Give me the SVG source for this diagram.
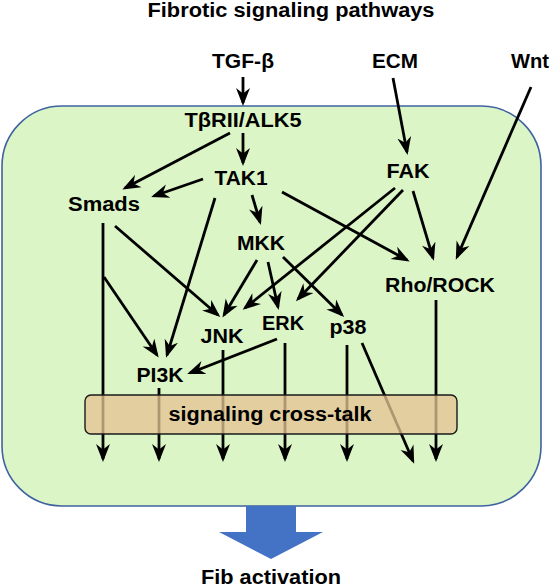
<svg xmlns="http://www.w3.org/2000/svg" width="551" height="588" viewBox="0 0 551 588">
<style>
.t{font-family:"Liberation Sans",Arial,Helvetica,sans-serif;font-weight:bold;font-size:20px;fill:#000;text-anchor:middle}
.c{fill:none;stroke:#000;stroke-width:2.8;marker-end:url(#ah)}
</style>
<defs>
<marker id="ah" markerUnits="userSpaceOnUse" markerWidth="18" markerHeight="15" viewBox="0 0 18 15" refX="15" refY="7.5" orient="auto">
<path d="M0,0.5 L18,7.5 L0,14.5 L5.5,7.5 Z" fill="#000"/>
</marker>
</defs>
<rect width="551" height="588" fill="#fff"/>
<text class="t" x="291" y="17" textLength="287" lengthAdjust="spacingAndGlyphs">Fibrotic signaling pathways</text>
<g id="cell">
<rect x="2" y="106" width="539" height="400" rx="60" ry="60" fill="#dbf5c6" stroke="#3f63a0" stroke-width="1.6"/>
</g>
<g id="connectors">
<line class="c" x1="243" y1="77" x2="243" y2="103"/>
<line class="c" x1="243" y1="133" x2="243" y2="163"/>
<line class="c" x1="230" y1="133" x2="125" y2="188"/>
<line class="c" x1="203" y1="179" x2="154" y2="196"/>
<line class="c" x1="252" y1="195" x2="260" y2="222"/>
<line class="c" x1="282" y1="192" x2="407" y2="260"/>
<line class="c" x1="215" y1="198" x2="167" y2="355"/>
<line class="c" x1="115" y1="226" x2="218" y2="315"/>
<line class="c" x1="103" y1="223" x2="103" y2="459"/>
<line class="c" x1="104" y1="277" x2="157" y2="355"/>
<line class="c" x1="393" y1="78" x2="407" y2="152"/>
<line class="c" x1="531" y1="87" x2="457" y2="257"/>
<line class="c" x1="413" y1="191" x2="433" y2="258"/>
<line class="c" x1="395" y1="188" x2="245" y2="308"/>
<line class="c" x1="403" y1="190" x2="298" y2="299"/>
<line class="c" x1="257" y1="260" x2="224" y2="315"/>
<line class="c" x1="268" y1="262" x2="278" y2="307"/>
<line class="c" x1="283" y1="257" x2="342" y2="315"/>
<line class="c" x1="277" y1="339" x2="190" y2="373"/>
<line class="c" x1="159" y1="388" x2="159" y2="459"/>
<line class="c" x1="223" y1="350" x2="223" y2="459"/>
<line class="c" x1="285" y1="343" x2="285" y2="459"/>
<line class="c" x1="347" y1="345" x2="347" y2="459"/>
<line class="c" x1="362" y1="343" x2="413" y2="461"/>
<line class="c" x1="436" y1="300" x2="436" y2="459"/>
</g>
<g id="crosstalk">
<rect x="85" y="395" width="372" height="39" rx="6" ry="6" fill="#e4c292" fill-opacity="0.77" stroke="#1a1a1a" stroke-width="1.4"/>
<text class="t" x="270" y="421" textLength="203" lengthAdjust="spacingAndGlyphs">signaling cross-talk</text>
</g>
<g id="n-tgfb"><text class="t" x="243" y="68" textLength="62" lengthAdjust="spacingAndGlyphs">TGF-β</text></g>
<g id="n-ecm"><text class="t" x="395" y="68" textLength="46" lengthAdjust="spacingAndGlyphs">ECM</text></g>
<g id="n-wnt"><text class="t" x="530" y="68" textLength="38" lengthAdjust="spacingAndGlyphs">Wnt</text></g>
<g id="n-receptor"><text class="t" x="243" y="127" textLength="117" lengthAdjust="spacingAndGlyphs">TβRII/ALK5</text></g>
<g id="n-tak1"><text class="t" x="241" y="185" textLength="53" lengthAdjust="spacingAndGlyphs">TAK1</text></g>
<g id="n-smads"><text class="t" x="104" y="211" textLength="72" lengthAdjust="spacingAndGlyphs">Smads</text></g>
<g id="n-fak"><text class="t" x="408" y="178" textLength="43" lengthAdjust="spacingAndGlyphs">FAK</text></g>
<g id="n-mkk"><text class="t" x="261" y="250" textLength="48" lengthAdjust="spacingAndGlyphs">MKK</text></g>
<g id="n-rho"><text class="t" x="440" y="292" textLength="110" lengthAdjust="spacingAndGlyphs">Rho/ROCK</text></g>
<g id="n-jnk"><text class="t" x="222" y="343" textLength="43" lengthAdjust="spacingAndGlyphs">JNK</text></g>
<g id="n-erk"><text class="t" x="283" y="330" textLength="42" lengthAdjust="spacingAndGlyphs">ERK</text></g>
<g id="n-p38"><text class="t" x="348" y="334" textLength="37" lengthAdjust="spacingAndGlyphs">p38</text></g>
<g id="n-pi3k"><text class="t" x="160" y="382" textLength="47" lengthAdjust="spacingAndGlyphs">PI3K</text></g>
<g id="outcome">
<polygon points="246,506 296,506 296,532 323,532 271,559 219,532 246,532" fill="#4472c4"/>
<text class="t" x="271" y="584" textLength="140" lengthAdjust="spacingAndGlyphs">Fib activation</text>
</g>
</svg>
